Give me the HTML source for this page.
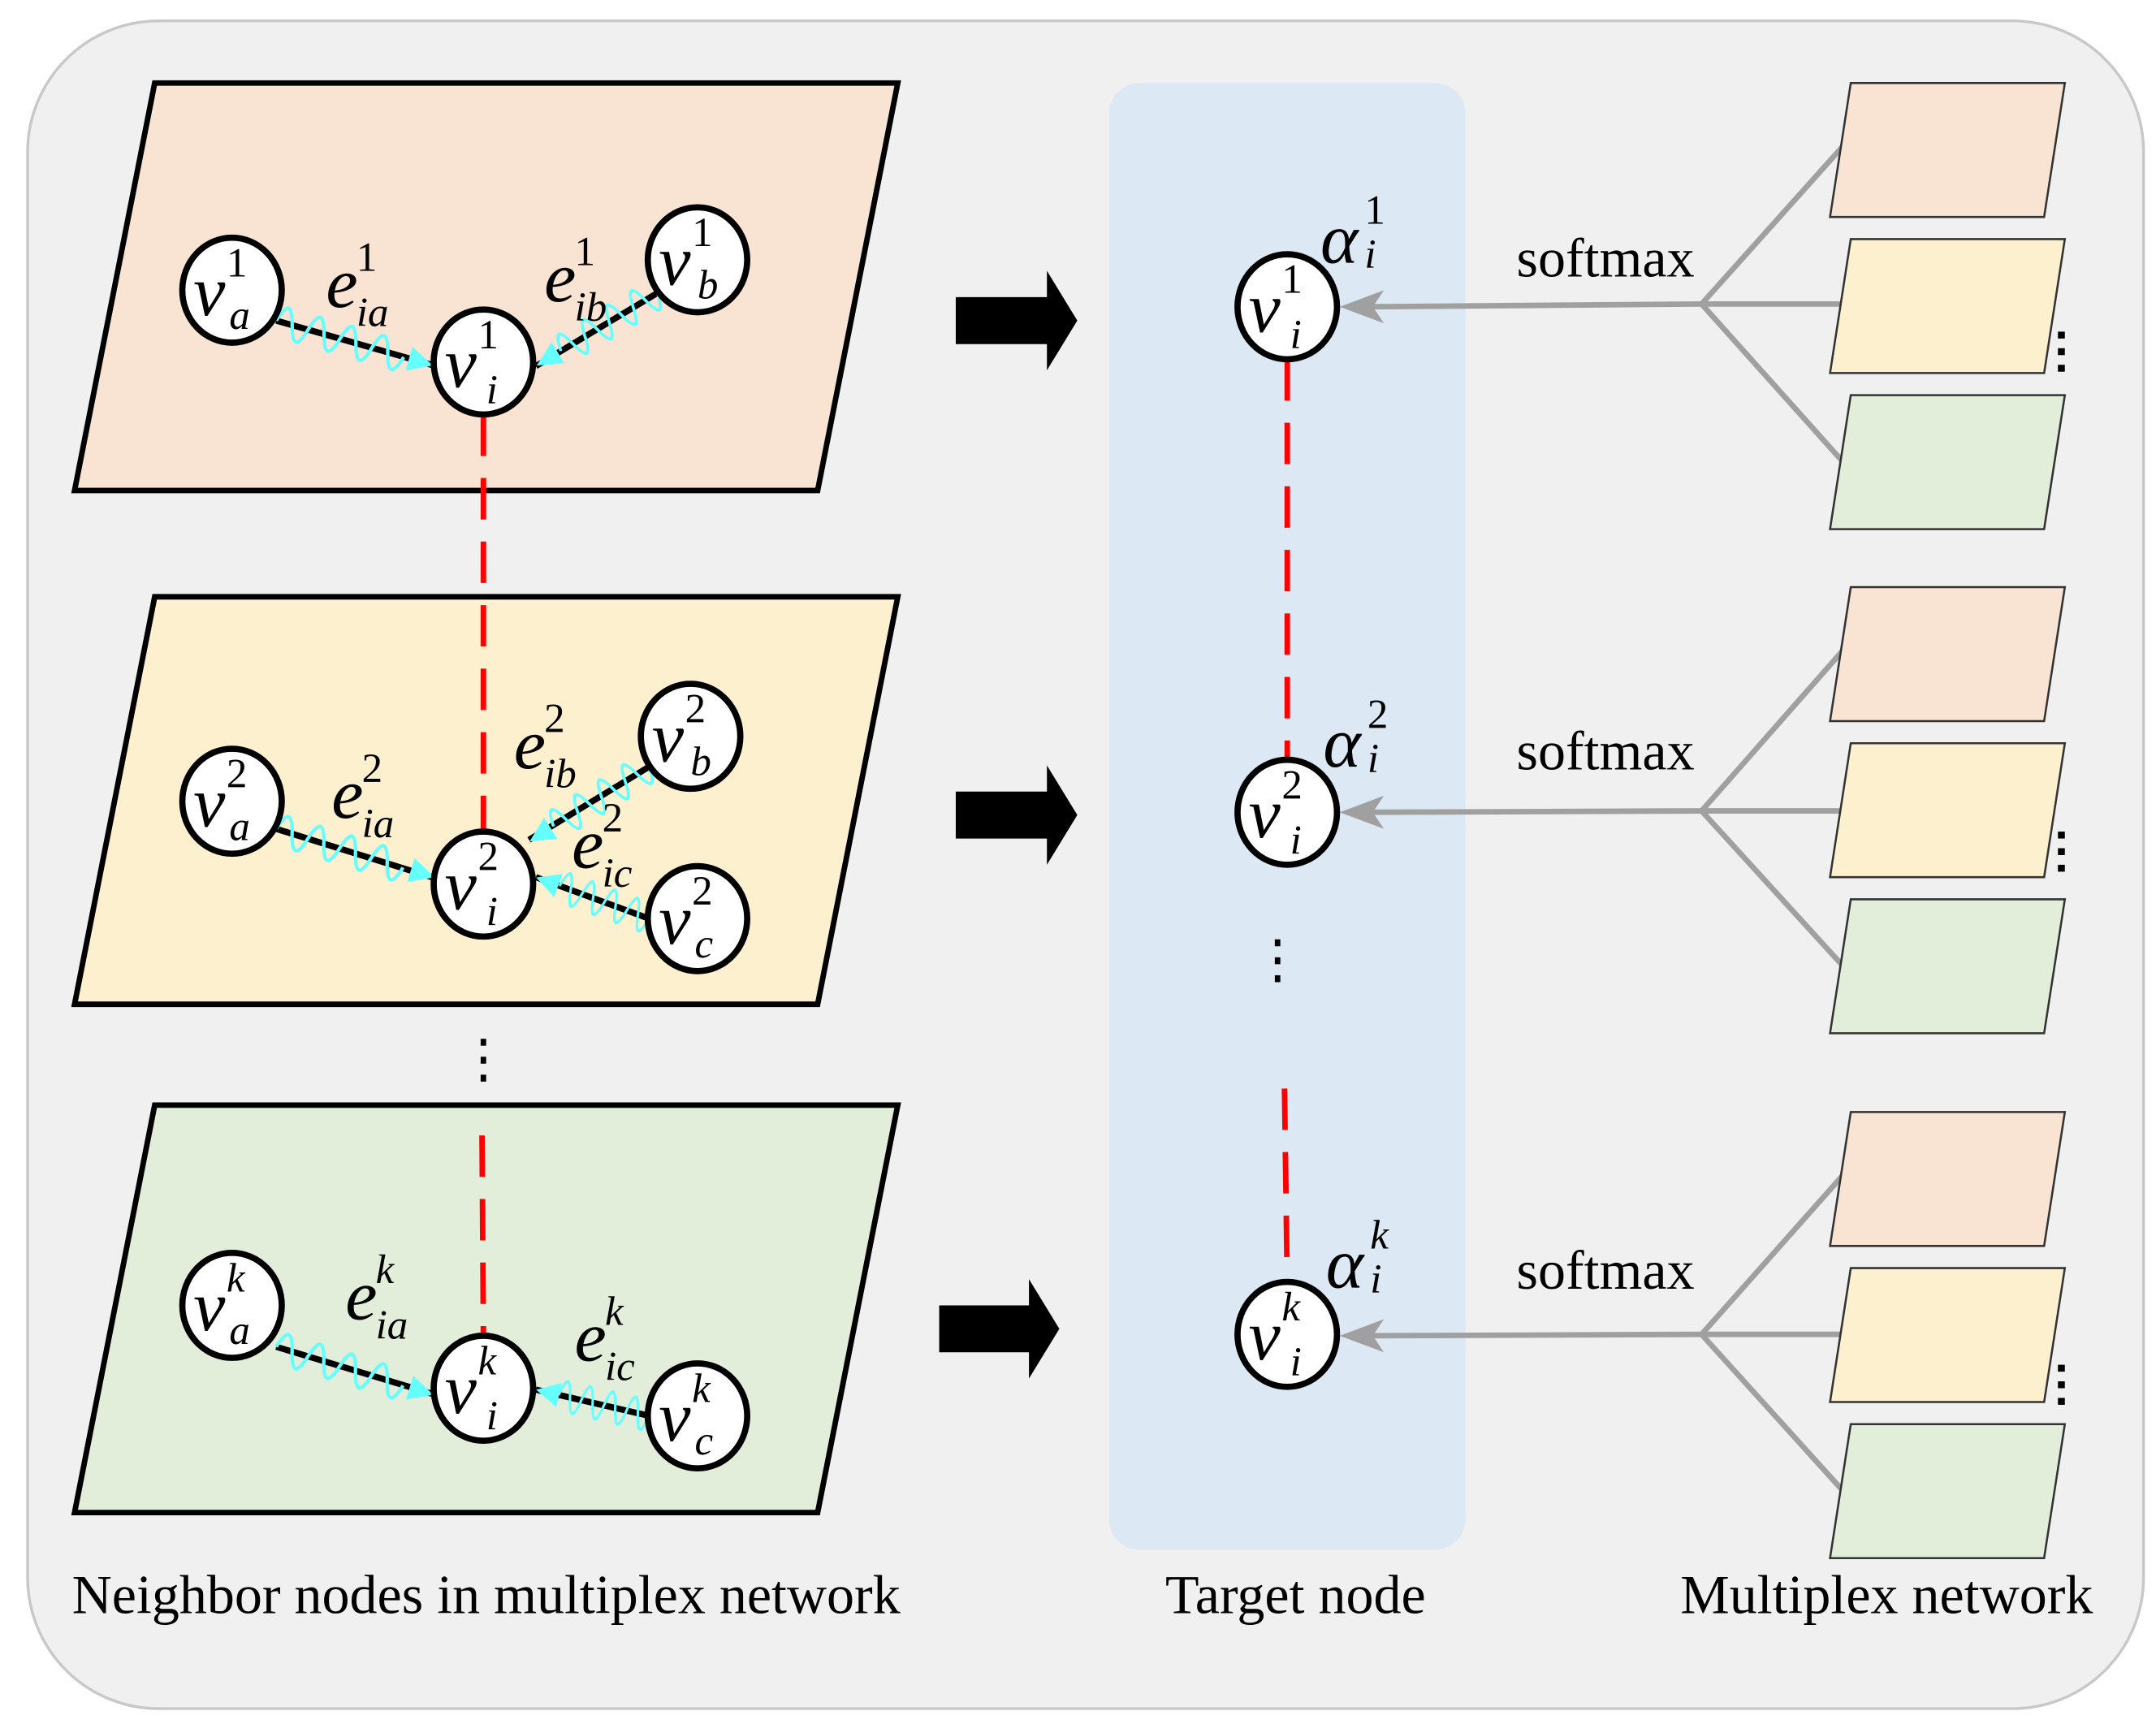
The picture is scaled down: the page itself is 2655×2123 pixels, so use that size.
<!DOCTYPE html>
<html><head><meta charset="utf-8"><style>html,body{margin:0;padding:0;background:#fff}svg{display:block}
.v{font-family:"Liberation Serif",serif;font-style:italic;font-size:52px}
.s{font-family:"Liberation Serif",serif;font-style:italic;font-size:30px}
.n{font-family:"Liberation Serif",serif;font-size:30px}
.t{font-family:"Liberation Serif",serif;font-size:40px}
</style></head><body>
<svg width="2655" height="2123" viewBox="0 0 1561 1248" xmlns="http://www.w3.org/2000/svg">
<defs>
<path id="wave" d="M0 0 q6 -22 12 0 t12 0 t12 0 t12 0 t12 0 t12 0 t12 0 t12 0" fill="none" stroke="#6ff" stroke-width="2.5"/>
</defs>
<rect x="20" y="15" width="1532" height="1222" rx="95" fill="#f0f0f0" stroke="#c8c8c8" stroke-width="2"/>
<rect x="803" y="60" width="258" height="1062" rx="22" fill="#dce8f4"/>
<polygon points="112,60 650,60 592,355 54,355" fill="#f9e3d3" stroke="#000" stroke-width="4"/>
<polygon points="112,432 650,432 592,727 54,727" fill="#fdf0cf" stroke="#000" stroke-width="4"/>
<polygon points="112,800 650,800 592,1095 54,1095" fill="#e2eed9" stroke="#000" stroke-width="4"/>
<g stroke="#f00" stroke-width="4" stroke-dasharray="30,16" fill="none">
<line x1="350" y1="300" x2="350" y2="600"/>
<line x1="349" y1="822" x2="350" y2="968"/>
<line x1="932" y1="260" x2="932" y2="550"/>
<line x1="930" y1="788" x2="932" y2="930"/>
</g>
<g stroke="#000" stroke-width="4.5">
<line x1="200" y1="232" x2="316" y2="265"/><line x1="476" y1="212" x2="388" y2="265"/>
<line x1="200" y1="600" x2="316" y2="636"/><line x1="470" y1="555" x2="383" y2="608"/><line x1="470" y1="665" x2="388" y2="635"/>
<line x1="200" y1="975" x2="316" y2="1010"/><line x1="470" y1="1025" x2="388" y2="1006"/>
</g>
<g>
<g transform="translate(200,232) rotate(16)"><use href="#wave"/><polygon points="118,0 100,-9 100,9" fill="#6ff"/></g>
<g transform="translate(476,212) rotate(149)"><use href="#wave" transform="scale(0.85,1)"/><polygon points="102,0 84,-9 84,9" fill="#6ff"/></g>
<g transform="translate(200,600) rotate(17)"><use href="#wave"/><polygon points="120,0 102,-9 102,9" fill="#6ff"/></g>
<g transform="translate(470,555) rotate(148)"><use href="#wave" transform="scale(0.85,1)"/><polygon points="102,0 84,-9 84,9" fill="#6ff"/></g>
<g transform="translate(470,665) rotate(200)"><use href="#wave" transform="scale(0.72,1)"/><polygon points="87,0 70,-9 70,9" fill="#6ff"/></g>
<g transform="translate(200,975) rotate(17)"><use href="#wave"/><polygon points="119,0 101,-9 101,9" fill="#6ff"/></g>
<g transform="translate(470,1025) rotate(193)"><use href="#wave" transform="scale(0.7,1)"/><polygon points="84,0 67,-9 67,9" fill="#6ff"/></g>
</g>
<g fill="#fff" stroke="#000" stroke-width="4.5">
<ellipse cx="168" cy="210" rx="36" ry="38"/><ellipse cx="350" cy="262" rx="36" ry="38"/><ellipse cx="505" cy="188" rx="36" ry="38"/>
<ellipse cx="168" cy="580" rx="36" ry="38"/><ellipse cx="350" cy="640" rx="36" ry="38"/><ellipse cx="500" cy="533" rx="36" ry="38"/><ellipse cx="505" cy="665" rx="36" ry="38"/>
<ellipse cx="168" cy="945" rx="36" ry="38"/><ellipse cx="350" cy="1005" rx="36" ry="38"/><ellipse cx="505" cy="1025" rx="36" ry="38"/>
<ellipse cx="932" cy="222" rx="36" ry="38"/><ellipse cx="932" cy="588" rx="36" ry="38"/><ellipse cx="932" cy="966" rx="36" ry="38"/>
</g>
<g>
<text class="v" x="140" y="228">v</text><text class="n" x="164" y="200">1</text><text class="s" x="166" y="238">a</text>
<text class="v" x="322" y="280">v</text><text class="n" x="346" y="252">1</text><text class="s" x="352" y="292">i</text>
<text class="v" x="477" y="206">v</text><text class="n" x="501" y="178">1</text><text class="s" x="505" y="216">b</text>
<text class="v" x="140" y="598">v</text><text class="n" x="164" y="570">2</text><text class="s" x="166" y="608">a</text>
<text class="v" x="322" y="658">v</text><text class="n" x="346" y="630">2</text><text class="s" x="352" y="670">i</text>
<text class="v" x="472" y="551">v</text><text class="n" x="496" y="523">2</text><text class="s" x="500" y="561">b</text>
<text class="v" x="477" y="683">v</text><text class="n" x="501" y="655">2</text><text class="s" x="503" y="693">c</text>
<text class="v" x="140" y="963">v</text><text class="s" x="164" y="935">k</text><text class="s" x="166" y="973">a</text>
<text class="v" x="322" y="1023">v</text><text class="s" x="346" y="995">k</text><text class="s" x="352" y="1035">i</text>
<text class="v" x="477" y="1043">v</text><text class="s" x="501" y="1015">k</text><text class="s" x="503" y="1053">c</text>
<text class="v" x="904" y="240">v</text><text class="n" x="928" y="212">1</text><text class="s" x="934" y="252">i</text>
<text class="v" x="904" y="606">v</text><text class="n" x="928" y="578">2</text><text class="s" x="934" y="618">i</text>
<text class="v" x="904" y="984">v</text><text class="s" x="928" y="956">k</text><text class="s" x="934" y="996">i</text>
</g>
<g>
<text class="v" x="236" y="222">e</text><text class="n" x="258" y="196">1</text><text class="s" x="258" y="236">ia</text>
<text class="v" x="394" y="218">e</text><text class="n" x="416" y="192">1</text><text class="s" x="416" y="232">ib</text>
<text class="v" x="240" y="592">e</text><text class="n" x="262" y="566">2</text><text class="s" x="262" y="606">ia</text>
<text class="v" x="372" y="556">e</text><text class="n" x="394" y="530">2</text><text class="s" x="394" y="570">ib</text>
<text class="v" x="414" y="628">e</text><text class="n" x="436" y="602">2</text><text class="s" x="436" y="642">ic</text>
<text class="v" x="250" y="955">e</text><text class="s" x="272" y="929">k</text><text class="s" x="272" y="969">ia</text>
<text class="v" x="416" y="985">e</text><text class="s" x="438" y="959">k</text><text class="s" x="438" y="999">ic</text>
</g>
<g>
<text class="v" x="956" y="190">α</text><text class="n" x="988" y="162">1</text><text class="s" x="988" y="194">i</text>
<text class="v" x="958" y="555">α</text><text class="n" x="990" y="527">2</text><text class="s" x="990" y="559">i</text>
<text class="v" x="960" y="932">α</text><text class="s" x="992" y="904">k</text><text class="s" x="992" y="936">i</text>
</g>
<g fill="#000">
<rect x="348" y="752" width="4" height="5"/><rect x="348" y="765" width="4" height="5"/><rect x="348" y="778" width="4" height="5"/>
<rect x="923" y="680" width="4" height="5"/><rect x="923" y="693" width="4" height="5"/><rect x="923" y="706" width="4" height="5"/>
<rect x="1490" y="240" width="5" height="5"/><rect x="1490" y="252" width="5" height="5"/><rect x="1490" y="264" width="5" height="5"/>
<rect x="1490" y="602" width="5" height="5"/><rect x="1490" y="614" width="5" height="5"/><rect x="1490" y="626" width="5" height="5"/>
<rect x="1490" y="988" width="5" height="5"/><rect x="1490" y="1000" width="5" height="5"/><rect x="1490" y="1012" width="5" height="5"/>
</g>
<g fill="#000">
<polygon points="692,215 758,215 758,196 780,232 758,268 758,249 692,249"/>
<polygon points="692,573 758,573 758,554 780,590 758,626 758,607 692,607"/>
<polygon points="680,945 745,945 745,926 767,962 745,998 745,979 680,979"/>
</g>
<g stroke="#a0a0a0" stroke-width="4" fill="none">
<line x1="1232" y1="220" x2="990" y2="222"/><line x1="1232" y1="220" x2="1335" y2="105"/><line x1="1232" y1="220" x2="1335" y2="220"/><line x1="1232" y1="220" x2="1335" y2="335"/>
<line x1="1232" y1="587" x2="990" y2="588"/><line x1="1232" y1="587" x2="1335" y2="470"/><line x1="1232" y1="587" x2="1335" y2="587"/><line x1="1232" y1="587" x2="1335" y2="700"/>
<line x1="1232" y1="966" x2="990" y2="967"/><line x1="1232" y1="966" x2="1335" y2="850"/><line x1="1232" y1="966" x2="1335" y2="966"/><line x1="1232" y1="966" x2="1335" y2="1080"/>
</g>
<g fill="#a0a0a0">
<polygon points="970,222 1002,210 994,222 1002,234"/>
<polygon points="970,588 1002,576 994,588 1002,600"/>
<polygon points="970,967 1002,955 994,967 1002,979"/>
</g>
<g stroke="#333" stroke-width="1.5">
<polygon points="1340,60 1495,60 1480,157 1325,157" fill="#f9e3d3"/>
<polygon points="1340,173 1495,173 1480,270 1325,270" fill="#fdf0cf"/>
<polygon points="1340,286 1495,286 1480,383 1325,383" fill="#e2eed9"/>
<polygon points="1340,425 1495,425 1480,522 1325,522" fill="#f9e3d3"/>
<polygon points="1340,538 1495,538 1480,635 1325,635" fill="#fdf0cf"/>
<polygon points="1340,651 1495,651 1480,748 1325,748" fill="#e2eed9"/>
<polygon points="1340,805 1495,805 1480,902 1325,902" fill="#f9e3d3"/>
<polygon points="1340,918 1495,918 1480,1015 1325,1015" fill="#fdf0cf"/>
<polygon points="1340,1031 1495,1031 1480,1128 1325,1128" fill="#e2eed9"/>
</g>
<text class="t" x="1098" y="200">softmax</text>
<text class="t" x="1098" y="557">softmax</text>
<text class="t" x="1098" y="933">softmax</text>
<text class="t" x="352" y="1168" text-anchor="middle">Neighbor nodes in multiplex network</text>
<text class="t" x="938" y="1168" text-anchor="middle">Target node</text>
<text class="t" x="1366" y="1168" text-anchor="middle">Multiplex network</text>
</svg>
</body></html>
